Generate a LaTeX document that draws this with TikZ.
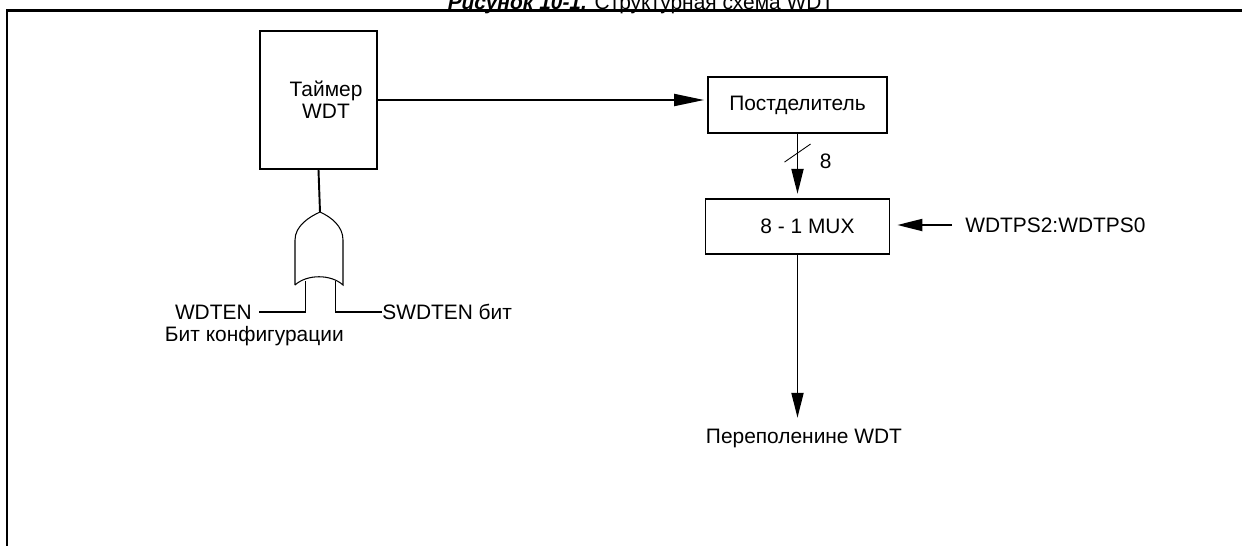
\documentclass[tikz,border=0pt]{standalone}
\usepackage{fontspec}
\setmainfont{Liberation Sans}
\usetikzlibrary{
    arrows.meta,
    positioning,
    calc
}

\begin{document}
\begin{tikzpicture}[
    x=0.02cm,
    y=-0.02cm,
    font=\fontsize{11.9}{12.5}\selectfont,
    block/.style={draw, line width=1pt, inner sep=0pt},
    wire/.style={line width=1.1pt},
    bigarrow/.style={wire, -{Triangle[length=0.6cm,width=0.24cm]}},
    smallarrow/.style={wire, -{Triangle[length=0.5cm,width=0.24cm]}},
    lbl/.style={inner sep=0pt}
]

\useasboundingbox (0,0) rectangle (1242,545);

% frame and title
\draw[line width=1.15pt] (7,560) -- (7,10.5) -- (1260,10.5);
\node[lbl, anchor=base] (title) at (641,9)
    {\textbf{\textit{Рисунок 10-1.}} Структурная схема WDT};

% left part
\node[
    block,
    minimum width=2.34cm,
    minimum height=2.76cm,
    align=center
] (timer) at (318.5,100) {\hspace*{0.3cm}Таймер\\\hspace*{0.3cm}WDT};

% OR gate
\draw[line width=0.6pt] (295,285) -- (295,240)
    .. controls (295,226) and (309,217) .. (320,212)
    .. controls (331,217) and (343,226) .. (343,240) -- (343,285)
    .. controls (331,274) and (307,274) .. (295,285);
\coordinate (orout) at (320,212);
\coordinate (orinA) at (305.5,281);
\coordinate (orinB) at (335.5,281);

\node[lbl, inner xsep=0.14cm, anchor=east] (wdten) at (259,312) {WDTEN};
\node[lbl, anchor=base east] (config) at (344,341) {Бит конфигурации};
\node[lbl, anchor=west] (swdten) at (382,312) {SWDTEN бит};

\draw[wire] (timer.south) -- (orout);
\draw[wire] (orinA) |- (wdten.east);
\draw[wire] (orinB) |- (swdten.west);

% right part
\node[
    block,
    minimum width=3.58cm,
    minimum height=1.12cm
] (post) at (797.5,105) {Постделитель};

\node[
    block,
    minimum width=3.68cm,
    minimum height=1.10cm,
    below=1.28cm of post
] (mux) {\hspace{0.4cm}8 - 1 MUX};

\node[lbl, anchor=west] (sel) at (965,225) {WDTPS2:WDTPS0};
\node[lbl, anchor=base] (ovf) at (804,443) {Переполенине WDT};

\draw[bigarrow, shorten >=0.06cm] (timer.east) -- (timer.east -| post.west);
\draw[smallarrow, shorten >=0.08cm] (post.south) -- (mux.north);
\draw[smallarrow, shorten <=0.26cm, shorten >=0.14cm] (sel.west) -- (sel.west -| mux.east);
\draw[smallarrow, shorten >=0.21cm] (mux.south) -- (mux.south |- ovf.north);

% bus width
\coordinate (bus) at ($(post.south)!0.3!(mux.north)$);
\draw[line width=0.5pt] ($(bus)+(-13,9)$) -- ($(bus)+(13,-9)$);
\node[lbl, anchor=base west] (buswidth) at ($(bus)+(22,15)$) {8};

\end{tikzpicture}
\end{document}
